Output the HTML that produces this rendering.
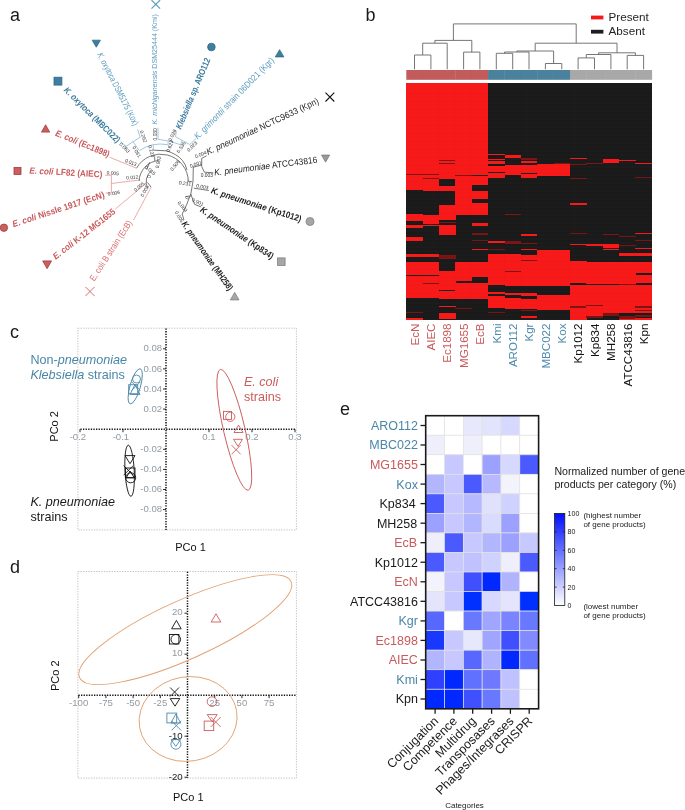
<!DOCTYPE html><html><head><meta charset="utf-8"><style>html,body{margin:0;padding:0;background:#fff;width:685px;height:810px;overflow:hidden}svg{display:block;will-change:transform}</style></head><body>
<svg width="685" height="810" viewBox="0 0 685 810" font-family='"Liberation Sans", sans-serif'>
<rect width="685" height="810" fill="#fff"/>
<text x="10" y="21" font-size="18" fill="#1a1a1a">a</text>
<text x="365.5" y="21" font-size="18" fill="#1a1a1a">b</text>
<text x="10" y="337.5" font-size="18" fill="#1a1a1a">c</text>
<text x="10" y="572.5" font-size="18" fill="#1a1a1a">d</text>
<text x="340" y="414.5" font-size="18" fill="#1a1a1a">e</text>
<text x="154.3" y="124.4" transform="rotate(-90.00 154.3 124.4)" font-size="7.4" fill="#5c9cbf" font-weight="normal" dominant-baseline="central" textLength="110.2" lengthAdjust="spacingAndGlyphs"><tspan font-style="italic">K. michiganensis</tspan><tspan> DSM25444 (Kmi)</tspan></text>
<text x="178.3" y="128.5" transform="rotate(-67.15 178.3 128.5)" font-size="9" fill="#3b7b9d" font-weight="bold" dominant-baseline="central" textLength="76.0" lengthAdjust="spacingAndGlyphs"><tspan font-style="italic">Klebsiella</tspan><tspan> sp. ARO112</tspan></text>
<text x="195.6" y="137.7" transform="rotate(-45.74 195.6 137.7)" font-size="9" fill="#5c9cbf" font-weight="normal" dominant-baseline="central" textLength="110.2" lengthAdjust="spacingAndGlyphs"><tspan font-style="italic">K. grimontii</tspan><tspan> strain 06D021 (Kgr)</tspan></text>
<text x="206.7" y="152.4" transform="rotate(-24.94 206.7 152.4)" font-size="9" fill="#1e1e1e" font-weight="normal" dominant-baseline="central" textLength="123.1" lengthAdjust="spacingAndGlyphs"><tspan font-style="italic">K. pneumoniae</tspan><tspan> NCTC9633 (Kpn)</tspan></text>
<text x="214.1" y="172.6" transform="rotate(-7.13 214.1 172.6)" font-size="9" fill="#1e1e1e" font-weight="normal" dominant-baseline="central" textLength="103.9" lengthAdjust="spacingAndGlyphs"><tspan font-style="italic">K. pneumoniae</tspan><tspan> ATCC43816</tspan></text>
<text x="211.3" y="190.2" transform="rotate(17.86 211.3 190.2)" font-size="9" fill="#1e1e1e" font-weight="bold" dominant-baseline="central" textLength="94.6" lengthAdjust="spacingAndGlyphs"><tspan font-style="italic">K. pneumoniae</tspan><tspan> (Kp1012)</tspan></text>
<text x="201.2" y="208.8" transform="rotate(33.89 201.2 208.8)" font-size="9" fill="#1e1e1e" font-weight="bold" dominant-baseline="central" textLength="86.3" lengthAdjust="spacingAndGlyphs"><tspan font-style="italic">K. pneumoniae</tspan><tspan> (Kp834)</tspan></text>
<text x="183.6" y="222.4" transform="rotate(54.75 183.6 222.4)" font-size="9" fill="#1e1e1e" font-weight="bold" dominant-baseline="central" textLength="82.3" lengthAdjust="spacingAndGlyphs"><tspan font-style="italic">K. pneumoniae</tspan><tspan> (MH258)</tspan></text>
<text x="91.7" y="280.2" transform="rotate(-57.05 91.7 280.2)" font-size="9" fill="#da6c6c" font-weight="normal" dominant-baseline="central" textLength="70.4" lengthAdjust="spacingAndGlyphs"><tspan>E. coli</tspan><tspan> B strain (EcB)</tspan></text>
<text x="54.0" y="257.5" transform="rotate(-38.04 54.0 257.5)" font-size="9" fill="#c9595b" font-weight="bold" dominant-baseline="central" textLength="76.4" lengthAdjust="spacingAndGlyphs"><tspan font-style="italic">E. coli</tspan><tspan> K-12 MG1655</tspan></text>
<text x="12.7" y="224.3" transform="rotate(-18.15 12.7 224.3)" font-size="9" fill="#c9595b" font-weight="bold" dominant-baseline="central" textLength="96.3" lengthAdjust="spacingAndGlyphs"><tspan font-style="italic">E. coli</tspan><tspan> Nissle 1917 (EcN)</tspan></text>
<text x="29.4" y="170.4" transform="rotate(3.14 29.4 170.4)" font-size="9" fill="#c9595b" font-weight="bold" dominant-baseline="central" textLength="73.1" lengthAdjust="spacingAndGlyphs"><tspan font-style="italic">E. coli</tspan><tspan> LF82 (AIEC)</tspan></text>
<text x="55.9" y="132.7" transform="rotate(22.26 55.9 132.7)" font-size="9" fill="#c9595b" font-weight="bold" dominant-baseline="central" textLength="57.8" lengthAdjust="spacingAndGlyphs"><tspan font-style="italic">E. coli</tspan><tspan> (Ec1898)</tspan></text>
<text x="65.4" y="88.7" transform="rotate(44.51 65.4 88.7)" font-size="9" fill="#3b7b9d" font-weight="bold" dominant-baseline="central" textLength="74.9" lengthAdjust="spacingAndGlyphs"><tspan font-style="italic">K. oxytoca</tspan><tspan> (MBC022)</tspan></text>
<text x="99.6" y="53.1" transform="rotate(62.89 99.6 53.1)" font-size="9" fill="#5c9cbf" font-weight="normal" dominant-baseline="central" textLength="80.5" lengthAdjust="spacingAndGlyphs"><tspan font-style="italic">K. oxytoca</tspan><tspan> DSM5175 (Kox)</tspan></text>
<path d="M151.5,0.1L160.1,8.7M160.1,0.1L151.5,8.7" stroke="#5c9cbf" stroke-width="1.2" fill="none"/>
<circle cx="211.4" cy="47" r="3.8" fill="#3f7ea0" stroke="#2f6a88" stroke-width="0.8"/>
<polygon points="279.6,49.7 283.9,56.9 275.3,56.9" fill="#3f7ea0" stroke="#2f6a88" stroke-width="0.8"/>
<path d="M325.5,92.7L334.3,101.5M334.3,92.7L325.5,101.5" stroke="#111" stroke-width="1.1" fill="none"/>
<polygon points="321.6,155.1 329.6,155.1 325.6,162.1" fill="#9a9a9a" stroke="#777" stroke-width="0.8"/>
<circle cx="310" cy="221.5" r="4.0" fill="#a6a6a6" stroke="#808080" stroke-width="0.8"/>
<rect x="277.6" y="257.9" width="7.5" height="7.5" fill="#a6a6a6" stroke="#808080" stroke-width="0.8"/>
<polygon points="234.7,292.4 239.0,299.9 230.4,299.9" fill="#a6a6a6" stroke="#808080" stroke-width="0.8"/>
<path d="M85.4,286.9L94.6,296.1M94.6,286.9L85.4,296.1" stroke="#da6c6c" stroke-width="1.0" fill="none"/>
<polygon points="42.7,260.9 51.5,260.9 47.1,268.7" fill="#cc5e5e" stroke="#9e3e3e" stroke-width="0.8"/>
<circle cx="3.9" cy="227.7" r="3.7" fill="#cc5e5e" stroke="#9e3e3e" stroke-width="0.8"/>
<rect x="14.0" y="167.5" width="7" height="7" fill="#cc5e5e" stroke="#9e3e3e" stroke-width="0.8"/>
<polygon points="45.6,124.8 49.7,132.1 41.5,132.1" fill="#cc5e5e" stroke="#9e3e3e" stroke-width="0.8"/>
<rect x="54.0" y="77.2" width="7.9" height="7.9" fill="#3f7ea0" stroke="#2f6a88" stroke-width="0.8"/>
<polygon points="92.2,40.2 100.4,40.2 96.3,47.2" fill="#3f7ea0" stroke="#2f6a88" stroke-width="0.8"/>
<path d="M109.5,157.2 L136.5,168.2" fill="none" stroke="#e58d8d" stroke-width="0.75"/>
<path d="M105,175.2 L111.4,175.2 L111.4,193 L105.5,193 M111.4,183.5 L140.1,179.9" fill="none" stroke="#e58d8d" stroke-width="0.75"/>
<path d="M115.3,209 L146.7,182.8" fill="none" stroke="#e58d8d" stroke-width="0.75"/>
<path d="M133.6,220 L151.1,187.2" fill="none" stroke="#e58d8d" stroke-width="0.75"/>
<path d="M136.5,168.2 A27.7,27.7 0 0 1 188.3,181.3" fill="none" stroke="#4a4a4a" stroke-width="0.75"/>
<path d="M139.1,181.1 A21.5,21.5 0 0 1 158.7,160.5" fill="none" stroke="#4a4a4a" stroke-width="0.75"/>
<path d="M147.7,188.5 A14.5,14.5 0 0 1 151.9,170.3" fill="none" stroke="#4a4a4a" stroke-width="0.75"/>
<path d="M151.1,187.2 L147.5,182.5" fill="none" stroke="#4a4a4a" stroke-width="0.75"/>
<path d="M149.6,162.3 L146.7,169.6" fill="none" stroke="#4a4a4a" stroke-width="0.75"/>
<path d="M187.2,181.1 L192.2,181.7" fill="none" stroke="#4a4a4a" stroke-width="0.75"/>
<path d="M193.3,166.7 Q194,182 190.8,194 L186.5,205 L182.2,214" fill="none" stroke="#4a4a4a" stroke-width="0.75"/>
<path d="M193.3,167.2 L201.7,165 M201.7,158.3 L201.7,166.5 L204.4,172.2 L213.3,172.8 M201.7,158.3 L206.7,155.8" fill="none" stroke="#4a4a4a" stroke-width="0.75"/>
<path d="M193.8,188.2 L208.9,190.5" fill="none" stroke="#4a4a4a" stroke-width="0.75"/>
<path d="M190.8,194 L194.5,204.3 L201.1,206.9" fill="none" stroke="#4a4a4a" stroke-width="0.75"/>
<path d="M182.2,214 L183.9,220" fill="none" stroke="#4a4a4a" stroke-width="0.75"/>
<path d="M185.5,196.5 L190.8,196" fill="none" stroke="#4a4a4a" stroke-width="0.75"/>
<path d="M137.6,129.5 L140.2,137.2 M120.5,141.5 L126,146.3 L140.2,137.2 M132.9,141.5 L139.1,150.3" fill="none" stroke="#84b4d0" stroke-width="0.75"/>
<path d="M139.4,150.6 A37.8,37.8 0 0 1 167.6,144.7" fill="none" stroke="#84b4d0" stroke-width="0.75"/>
<path d="M153.3,145.2 L153.3,150.2 M158,127.7 L158,139.3 Q170,140.2 180.7,144.8 M168.2,141.2 L167.9,145.2" fill="none" stroke="#84b4d0" stroke-width="0.75"/>
<path d="M176.3,131.7 L175.5,136.8 L189.8,144.5 L196,138.6 M182.1,140.4 L180.7,144.8" fill="none" stroke="#84b4d0" stroke-width="0.75"/>
<path d="M153.3,150.2 L166.5,150.8 Q177,154 182.5,160.5 Q186,165 187,170" fill="none" stroke="#4a4a4a" stroke-width="0.75"/>
<path d="M154.7,156.5 L154.7,160.9" fill="none" stroke="#4a4a4a" stroke-width="0.75"/>
<text x="143.3" y="136.5" font-size="4.9" fill="#333" text-anchor="middle" dominant-baseline="central" transform="rotate(70 143.3 136.5)">0.262</text>
<text x="124.5" y="147.8" font-size="4.9" fill="#333" text-anchor="middle" dominant-baseline="central" transform="rotate(45 124.5 147.8)">0.063</text>
<text x="136.5" y="151.8" font-size="4.9" fill="#333" text-anchor="middle" dominant-baseline="central" transform="rotate(60 136.5 151.8)">0.061</text>
<text x="130.7" y="162.7" font-size="4.9" fill="#333" text-anchor="middle" dominant-baseline="central" transform="rotate(22 130.7 162.7)">0.013</text>
<text x="151.3" y="151.2" font-size="4.9" fill="#333" text-anchor="middle" dominant-baseline="central" transform="rotate(75 151.3 151.2)">0.123</text>
<text x="155.2" y="134.3" font-size="4.9" fill="#333" text-anchor="middle" dominant-baseline="central" transform="rotate(-90 155.2 134.3)">0.030</text>
<text x="172.6" y="135.3" font-size="4.9" fill="#333" text-anchor="middle" dominant-baseline="central" transform="rotate(-65 172.6 135.3)">0.028</text>
<text x="170" y="146.3" font-size="4.9" fill="#333" text-anchor="middle" dominant-baseline="central" transform="rotate(-70 170 146.3)">0.623</text>
<text x="181.4" y="147.3" font-size="4.9" fill="#333" text-anchor="middle" dominant-baseline="central" transform="rotate(-55 181.4 147.3)">0.536</text>
<text x="192.3" y="146.6" font-size="4.9" fill="#333" text-anchor="middle" dominant-baseline="central" transform="rotate(-45 192.3 146.6)">0.023</text>
<text x="158.4" y="162.3" font-size="4.9" fill="#333" text-anchor="middle" dominant-baseline="central" transform="rotate(-80 158.4 162.3)">0.003</text>
<text x="175.2" y="165.5" font-size="4.9" fill="#333" text-anchor="middle" dominant-baseline="central" transform="rotate(-50 175.2 165.5)">0.506</text>
<text x="112.8" y="173.3" font-size="4.9" fill="#333" text-anchor="middle" dominant-baseline="central" transform="rotate(5 112.8 173.3)">0.005</text>
<text x="132.3" y="177.6" font-size="4.9" fill="#333" text-anchor="middle" dominant-baseline="central" transform="rotate(-5 132.3 177.6)">0.012</text>
<text x="113.9" y="193.3" font-size="4.9" fill="#333" text-anchor="middle" dominant-baseline="central" transform="rotate(-10 113.9 193.3)">0.006</text>
<text x="139.4" y="186.8" font-size="4.9" fill="#333" text-anchor="middle" dominant-baseline="central" transform="rotate(-40 139.4 186.8)">0.005</text>
<text x="144.9" y="191.1" font-size="4.9" fill="#333" text-anchor="middle" dominant-baseline="central" transform="rotate(-62 144.9 191.1)">0.005</text>
<text x="150.2" y="170.5" font-size="4.9" fill="#333" text-anchor="middle" dominant-baseline="central" transform="rotate(40 150.2 170.5)">0.015</text>
<text x="149.2" y="176.6" font-size="4.9" fill="#333" text-anchor="middle" dominant-baseline="central" transform="rotate(-90 149.2 176.6)">0</text>
<text x="200.8" y="154.7" font-size="4.9" fill="#333" text-anchor="middle" dominant-baseline="central" transform="rotate(-22 200.8 154.7)">0.004</text>
<text x="195.8" y="164.4" font-size="4.9" fill="#333" text-anchor="middle" dominant-baseline="central" transform="rotate(-18 195.8 164.4)">0.001</text>
<text x="206.9" y="175.3" font-size="4.9" fill="#333" text-anchor="middle" dominant-baseline="central" transform="rotate(0 206.9 175.3)">0.003</text>
<text x="185" y="183.6" font-size="4.9" fill="#333" text-anchor="middle" dominant-baseline="central" transform="rotate(8 185 183.6)">0.231</text>
<text x="202.4" y="186.9" font-size="4.9" fill="#333" text-anchor="middle" dominant-baseline="central" transform="rotate(10 202.4 186.9)">0.003</text>
<text x="187.2" y="197.8" font-size="4.9" fill="#333" text-anchor="middle" dominant-baseline="central" transform="rotate(-60 187.2 197.8)">0</text>
<text x="197.8" y="202.2" font-size="4.9" fill="#333" text-anchor="middle" dominant-baseline="central" transform="rotate(25 197.8 202.2)">0.001</text>
<text x="182.4" y="206.7" font-size="4.9" fill="#333" text-anchor="middle" dominant-baseline="central" transform="rotate(50 182.4 206.7)">0.003</text>
<text x="179.1" y="216.9" font-size="4.9" fill="#333" text-anchor="middle" dominant-baseline="central" transform="rotate(60 179.1 216.9)">0.005</text>
<path d="M414.5,69.3 V55 H430.9 V69.3" fill="none" stroke="#666" stroke-width="0.9"/>
<path d="M422.7,55 V43.2 H447.2 V69.3" fill="none" stroke="#666" stroke-width="0.9"/>
<path d="M463.6,69.3 V52.1 H479.9 V69.3" fill="none" stroke="#666" stroke-width="0.9"/>
<path d="M471.8,52.1 V40.4 H434.9 V43.2" fill="none" stroke="#666" stroke-width="0.9"/>
<path d="M453.4,40.4 V23.9 H576.2 V43.2" fill="none" stroke="#666" stroke-width="0.9"/>
<path d="M496.3,69.3 V53.3 H512.7 V69.3" fill="none" stroke="#666" stroke-width="0.9"/>
<path d="M504.5,53.3 V52 H529.0 V69.3" fill="none" stroke="#666" stroke-width="0.9"/>
<path d="M545.4,69.3 V63.5 H561.8 V69.3" fill="none" stroke="#666" stroke-width="0.9"/>
<path d="M516.8,52 V51 H553.6 V63.5" fill="none" stroke="#666" stroke-width="0.9"/>
<path d="M578.1,69.3 V57.9 H594.5 V69.3" fill="none" stroke="#666" stroke-width="0.9"/>
<path d="M586.3,57.9 V54.5 H610.9 V69.3" fill="none" stroke="#666" stroke-width="0.9"/>
<path d="M627.2,69.3 V55.4 H643.6 V69.3" fill="none" stroke="#666" stroke-width="0.9"/>
<path d="M598.6,54.5 V52.8 H635.4 V55.4" fill="none" stroke="#666" stroke-width="0.9"/>
<path d="M535.2,51 V43.2 H617.0 V52.8" fill="none" stroke="#666" stroke-width="0.9"/>
<rect x="406.30" y="70" width="16.67" height="9.8" fill="#c25b5c"/>
<rect x="422.67" y="70" width="16.67" height="9.8" fill="#c25b5c"/>
<rect x="439.03" y="70" width="16.67" height="9.8" fill="#c25b5c"/>
<rect x="455.40" y="70" width="16.67" height="9.8" fill="#c25b5c"/>
<rect x="471.77" y="70" width="16.67" height="9.8" fill="#c25b5c"/>
<rect x="488.13" y="70" width="16.67" height="9.8" fill="#4a819d"/>
<rect x="504.50" y="70" width="16.67" height="9.8" fill="#4a819d"/>
<rect x="520.87" y="70" width="16.67" height="9.8" fill="#4a819d"/>
<rect x="537.23" y="70" width="16.67" height="9.8" fill="#4a819d"/>
<rect x="553.60" y="70" width="16.67" height="9.8" fill="#4a819d"/>
<rect x="569.97" y="70" width="16.67" height="9.8" fill="#a8a8a8"/>
<rect x="586.33" y="70" width="16.67" height="9.8" fill="#a8a8a8"/>
<rect x="602.70" y="70" width="16.67" height="9.8" fill="#a8a8a8"/>
<rect x="619.07" y="70" width="16.67" height="9.8" fill="#a8a8a8"/>
<rect x="635.43" y="70" width="16.67" height="9.8" fill="#a8a8a8"/>
<line x1="422.67" y1="70" x2="422.67" y2="79.8" stroke="#000" stroke-opacity="0.03" stroke-width="0.6"/>
<line x1="439.03" y1="70" x2="439.03" y2="79.8" stroke="#000" stroke-opacity="0.03" stroke-width="0.6"/>
<line x1="455.40" y1="70" x2="455.40" y2="79.8" stroke="#000" stroke-opacity="0.03" stroke-width="0.6"/>
<line x1="471.77" y1="70" x2="471.77" y2="79.8" stroke="#000" stroke-opacity="0.03" stroke-width="0.6"/>
<line x1="488.13" y1="70" x2="488.13" y2="79.8" stroke="#000" stroke-opacity="0.03" stroke-width="0.6"/>
<line x1="504.50" y1="70" x2="504.50" y2="79.8" stroke="#000" stroke-opacity="0.03" stroke-width="0.6"/>
<line x1="520.87" y1="70" x2="520.87" y2="79.8" stroke="#000" stroke-opacity="0.03" stroke-width="0.6"/>
<line x1="537.23" y1="70" x2="537.23" y2="79.8" stroke="#000" stroke-opacity="0.03" stroke-width="0.6"/>
<line x1="553.60" y1="70" x2="553.60" y2="79.8" stroke="#000" stroke-opacity="0.03" stroke-width="0.6"/>
<line x1="569.97" y1="70" x2="569.97" y2="79.8" stroke="#000" stroke-opacity="0.03" stroke-width="0.6"/>
<line x1="586.33" y1="70" x2="586.33" y2="79.8" stroke="#000" stroke-opacity="0.03" stroke-width="0.6"/>
<line x1="602.70" y1="70" x2="602.70" y2="79.8" stroke="#000" stroke-opacity="0.03" stroke-width="0.6"/>
<line x1="619.07" y1="70" x2="619.07" y2="79.8" stroke="#000" stroke-opacity="0.03" stroke-width="0.6"/>
<line x1="635.43" y1="70" x2="635.43" y2="79.8" stroke="#000" stroke-opacity="0.03" stroke-width="0.6"/>
<rect x="406.3" y="83.0" width="245.50" height="237.0" fill="#1a1a1a" shape-rendering="crispEdges"/>
<rect x="406.30" y="83" width="16.57" height="107.3" fill="#f71818" shape-rendering="crispEdges"/>
<rect x="406.30" y="214" width="16.57" height="6.6" fill="#f71818" shape-rendering="crispEdges"/>
<rect x="406.30" y="225.4" width="16.57" height="2.2" fill="#f71818" shape-rendering="crispEdges"/>
<rect x="406.30" y="236.7" width="16.57" height="4.3" fill="#f71818" shape-rendering="crispEdges"/>
<rect x="406.30" y="253.8" width="16.57" height="2.7" fill="#f71818" shape-rendering="crispEdges"/>
<rect x="406.30" y="261.6" width="16.57" height="13.4" fill="#f71818" shape-rendering="crispEdges"/>
<rect x="406.30" y="276" width="16.57" height="21.7" fill="#f71818" shape-rendering="crispEdges"/>
<rect x="406.30" y="317.6" width="16.57" height="2.4" fill="#f71818" shape-rendering="crispEdges"/>
<rect x="406.30" y="174" width="16.57" height="1.0" fill="#7a1414" shape-rendering="crispEdges"/>
<rect x="406.30" y="312" width="16.57" height="1.0" fill="#7a1414" shape-rendering="crispEdges"/>
<rect x="422.67" y="83" width="16.57" height="108.0" fill="#f71818" shape-rendering="crispEdges"/>
<rect x="422.67" y="215" width="16.57" height="8.5" fill="#f71818" shape-rendering="crispEdges"/>
<rect x="422.67" y="224.8" width="16.57" height="0.8" fill="#f71818" shape-rendering="crispEdges"/>
<rect x="422.67" y="253.8" width="16.57" height="2.7" fill="#f71818" shape-rendering="crispEdges"/>
<rect x="422.67" y="261.6" width="16.57" height="13.4" fill="#f71818" shape-rendering="crispEdges"/>
<rect x="422.67" y="276" width="16.57" height="21.7" fill="#f71818" shape-rendering="crispEdges"/>
<rect x="422.67" y="174" width="16.57" height="1.0" fill="#7a1414" shape-rendering="crispEdges"/>
<rect x="422.67" y="178" width="16.57" height="1.0" fill="#7a1414" shape-rendering="crispEdges"/>
<rect x="422.67" y="283" width="16.57" height="1.0" fill="#7a1414" shape-rendering="crispEdges"/>
<rect x="439.03" y="83" width="16.57" height="96.0" fill="#f71818" shape-rendering="crispEdges"/>
<rect x="439.03" y="185.5" width="16.57" height="5.5" fill="#f71818" shape-rendering="crispEdges"/>
<rect x="439.03" y="204.5" width="16.57" height="15.2" fill="#f71818" shape-rendering="crispEdges"/>
<rect x="439.03" y="225.4" width="16.57" height="9.4" fill="#f71818" shape-rendering="crispEdges"/>
<rect x="439.03" y="271" width="16.57" height="19.0" fill="#f71818" shape-rendering="crispEdges"/>
<rect x="439.03" y="291" width="16.57" height="7.6" fill="#f71818" shape-rendering="crispEdges"/>
<rect x="439.03" y="305.5" width="16.57" height="1.0" fill="#f71818" shape-rendering="crispEdges"/>
<rect x="439.03" y="313" width="16.57" height="5.6" fill="#f71818" shape-rendering="crispEdges"/>
<rect x="439.03" y="160" width="16.57" height="1.0" fill="#7a1414" shape-rendering="crispEdges"/>
<rect x="439.03" y="163" width="16.57" height="1.0" fill="#7a1414" shape-rendering="crispEdges"/>
<rect x="439.03" y="222" width="16.57" height="1.0" fill="#7a1414" shape-rendering="crispEdges"/>
<rect x="439.03" y="255" width="16.57" height="4.0" fill="#7a1414" shape-rendering="crispEdges"/>
<rect x="455.40" y="83" width="16.57" height="91.7" fill="#f71818" shape-rendering="crispEdges"/>
<rect x="455.40" y="176" width="16.57" height="39.0" fill="#f71818" shape-rendering="crispEdges"/>
<rect x="455.40" y="222.6" width="16.57" height="0.8" fill="#f71818" shape-rendering="crispEdges"/>
<rect x="455.40" y="261.6" width="16.57" height="19.0" fill="#f71818" shape-rendering="crispEdges"/>
<rect x="455.40" y="283" width="16.57" height="15.6" fill="#f71818" shape-rendering="crispEdges"/>
<rect x="455.40" y="174.7" width="16.57" height="1.3" fill="#7a1414" shape-rendering="crispEdges"/>
<rect x="455.40" y="308" width="16.57" height="1.0" fill="#7a1414" shape-rendering="crispEdges"/>
<rect x="471.77" y="83" width="16.57" height="91.7" fill="#f71818" shape-rendering="crispEdges"/>
<rect x="471.77" y="176" width="16.57" height="9.0" fill="#f71818" shape-rendering="crispEdges"/>
<rect x="471.77" y="191" width="16.57" height="8.0" fill="#f71818" shape-rendering="crispEdges"/>
<rect x="471.77" y="203" width="16.57" height="12.0" fill="#f71818" shape-rendering="crispEdges"/>
<rect x="471.77" y="222.5" width="16.57" height="3.5" fill="#f71818" shape-rendering="crispEdges"/>
<rect x="471.77" y="248.6" width="16.57" height="1.0" fill="#f71818" shape-rendering="crispEdges"/>
<rect x="471.77" y="261.6" width="16.57" height="15.2" fill="#f71818" shape-rendering="crispEdges"/>
<rect x="471.77" y="283" width="16.57" height="15.6" fill="#f71818" shape-rendering="crispEdges"/>
<rect x="471.77" y="233" width="16.57" height="2.0" fill="#7a1414" shape-rendering="crispEdges"/>
<rect x="471.77" y="240" width="16.57" height="1.0" fill="#7a1414" shape-rendering="crispEdges"/>
<rect x="488.13" y="153.7" width="16.57" height="1.1" fill="#f71818" shape-rendering="crispEdges"/>
<rect x="488.13" y="158.5" width="16.57" height="1.0" fill="#f71818" shape-rendering="crispEdges"/>
<rect x="488.13" y="160.5" width="16.57" height="3.2" fill="#f71818" shape-rendering="crispEdges"/>
<rect x="488.13" y="165.6" width="16.57" height="6.4" fill="#f71818" shape-rendering="crispEdges"/>
<rect x="488.13" y="173" width="16.57" height="5.0" fill="#f71818" shape-rendering="crispEdges"/>
<rect x="488.13" y="240.5" width="16.57" height="2.9" fill="#f71818" shape-rendering="crispEdges"/>
<rect x="488.13" y="254" width="16.57" height="31.4" fill="#f71818" shape-rendering="crispEdges"/>
<rect x="488.13" y="292" width="16.57" height="2.0" fill="#f71818" shape-rendering="crispEdges"/>
<rect x="488.13" y="296" width="16.57" height="12.0" fill="#f71818" shape-rendering="crispEdges"/>
<rect x="488.13" y="249" width="16.57" height="1.0" fill="#7a1414" shape-rendering="crispEdges"/>
<rect x="488.13" y="312" width="16.57" height="1.0" fill="#7a1414" shape-rendering="crispEdges"/>
<rect x="504.50" y="154.8" width="16.57" height="3.2" fill="#f71818" shape-rendering="crispEdges"/>
<rect x="504.50" y="164.7" width="16.57" height="10.3" fill="#f71818" shape-rendering="crispEdges"/>
<rect x="504.50" y="254" width="16.57" height="32.0" fill="#f71818" shape-rendering="crispEdges"/>
<rect x="504.50" y="293" width="16.57" height="2.0" fill="#f71818" shape-rendering="crispEdges"/>
<rect x="504.50" y="297.7" width="16.57" height="11.3" fill="#f71818" shape-rendering="crispEdges"/>
<rect x="504.50" y="214" width="16.57" height="1.0" fill="#7a1414" shape-rendering="crispEdges"/>
<rect x="504.50" y="240.5" width="16.57" height="3.5" fill="#7a1414" shape-rendering="crispEdges"/>
<rect x="504.50" y="271" width="16.57" height="1.0" fill="#7a1414" shape-rendering="crispEdges"/>
<rect x="520.87" y="160.5" width="16.57" height="2.3" fill="#f71818" shape-rendering="crispEdges"/>
<rect x="520.87" y="164.7" width="16.57" height="8.5" fill="#f71818" shape-rendering="crispEdges"/>
<rect x="520.87" y="174" width="16.57" height="4.0" fill="#f71818" shape-rendering="crispEdges"/>
<rect x="520.87" y="234.3" width="16.57" height="1.5" fill="#f71818" shape-rendering="crispEdges"/>
<rect x="520.87" y="249" width="16.57" height="1.4" fill="#f71818" shape-rendering="crispEdges"/>
<rect x="520.87" y="255.3" width="16.57" height="31.0" fill="#f71818" shape-rendering="crispEdges"/>
<rect x="520.87" y="293" width="16.57" height="3.0" fill="#f71818" shape-rendering="crispEdges"/>
<rect x="520.87" y="298.6" width="16.57" height="10.4" fill="#f71818" shape-rendering="crispEdges"/>
<rect x="520.87" y="316" width="16.57" height="2.0" fill="#f71818" shape-rendering="crispEdges"/>
<rect x="520.87" y="158" width="16.57" height="2.0" fill="#7a1414" shape-rendering="crispEdges"/>
<rect x="520.87" y="243" width="16.57" height="1.0" fill="#7a1414" shape-rendering="crispEdges"/>
<rect x="520.87" y="260" width="16.57" height="1.0" fill="#7a1414" shape-rendering="crispEdges"/>
<rect x="520.87" y="310" width="16.57" height="1.0" fill="#7a1414" shape-rendering="crispEdges"/>
<rect x="537.23" y="163.7" width="16.57" height="12.3" fill="#f71818" shape-rendering="crispEdges"/>
<rect x="537.23" y="250" width="16.57" height="36.3" fill="#f71818" shape-rendering="crispEdges"/>
<rect x="537.23" y="294.8" width="16.57" height="15.2" fill="#f71818" shape-rendering="crispEdges"/>
<rect x="553.60" y="164.3" width="16.57" height="11.7" fill="#f71818" shape-rendering="crispEdges"/>
<rect x="553.60" y="250" width="16.57" height="36.3" fill="#f71818" shape-rendering="crispEdges"/>
<rect x="553.60" y="294.8" width="16.57" height="15.2" fill="#f71818" shape-rendering="crispEdges"/>
<rect x="553.60" y="163" width="16.57" height="1.3" fill="#7a1414" shape-rendering="crispEdges"/>
<rect x="569.97" y="157.5" width="16.57" height="1.0" fill="#f71818" shape-rendering="crispEdges"/>
<rect x="569.97" y="202.6" width="16.57" height="1.9" fill="#f71818" shape-rendering="crispEdges"/>
<rect x="569.97" y="244" width="16.57" height="1.3" fill="#f71818" shape-rendering="crispEdges"/>
<rect x="569.97" y="261" width="16.57" height="22.0" fill="#f71818" shape-rendering="crispEdges"/>
<rect x="569.97" y="285" width="16.57" height="21.0" fill="#f71818" shape-rendering="crispEdges"/>
<rect x="569.97" y="307.5" width="16.57" height="12.5" fill="#f71818" shape-rendering="crispEdges"/>
<rect x="569.97" y="164" width="16.57" height="1.0" fill="#7a1414" shape-rendering="crispEdges"/>
<rect x="569.97" y="178" width="16.57" height="1.0" fill="#7a1414" shape-rendering="crispEdges"/>
<rect x="569.97" y="233" width="16.57" height="1.0" fill="#7a1414" shape-rendering="crispEdges"/>
<rect x="569.97" y="306" width="16.57" height="1.5" fill="#7a1414" shape-rendering="crispEdges"/>
<rect x="586.33" y="244.3" width="16.57" height="1.6" fill="#f71818" shape-rendering="crispEdges"/>
<rect x="586.33" y="261.6" width="16.57" height="22.8" fill="#f71818" shape-rendering="crispEdges"/>
<rect x="586.33" y="285.4" width="16.57" height="19.9" fill="#f71818" shape-rendering="crispEdges"/>
<rect x="586.33" y="306" width="16.57" height="9.7" fill="#f71818" shape-rendering="crispEdges"/>
<rect x="586.33" y="163" width="16.57" height="1.0" fill="#7a1414" shape-rendering="crispEdges"/>
<rect x="586.33" y="305.3" width="16.57" height="0.7" fill="#7a1414" shape-rendering="crispEdges"/>
<rect x="586.33" y="315.7" width="16.57" height="1.9" fill="#7a1414" shape-rendering="crispEdges"/>
<rect x="602.70" y="159" width="16.57" height="3.8" fill="#f71818" shape-rendering="crispEdges"/>
<rect x="602.70" y="244" width="16.57" height="3.8" fill="#f71818" shape-rendering="crispEdges"/>
<rect x="602.70" y="249" width="16.57" height="1.4" fill="#f71818" shape-rendering="crispEdges"/>
<rect x="602.70" y="261.6" width="16.57" height="22.8" fill="#f71818" shape-rendering="crispEdges"/>
<rect x="602.70" y="285.4" width="16.57" height="27.5" fill="#f71818" shape-rendering="crispEdges"/>
<rect x="602.70" y="234" width="16.57" height="1.0" fill="#7a1414" shape-rendering="crispEdges"/>
<rect x="602.70" y="312.9" width="16.57" height="2.8" fill="#7a1414" shape-rendering="crispEdges"/>
<rect x="619.07" y="159.9" width="16.57" height="0.8" fill="#f71818" shape-rendering="crispEdges"/>
<rect x="619.07" y="253.4" width="16.57" height="2.3" fill="#f71818" shape-rendering="crispEdges"/>
<rect x="619.07" y="261.6" width="16.57" height="21.9" fill="#f71818" shape-rendering="crispEdges"/>
<rect x="619.07" y="285.4" width="16.57" height="27.6" fill="#f71818" shape-rendering="crispEdges"/>
<rect x="619.07" y="318.8" width="16.57" height="1.2" fill="#f71818" shape-rendering="crispEdges"/>
<rect x="619.07" y="236" width="16.57" height="1.0" fill="#7a1414" shape-rendering="crispEdges"/>
<rect x="619.07" y="245" width="16.57" height="1.0" fill="#7a1414" shape-rendering="crispEdges"/>
<rect x="619.07" y="284" width="16.57" height="1.0" fill="#7a1414" shape-rendering="crispEdges"/>
<rect x="619.07" y="315.8" width="16.57" height="3.0" fill="#7a1414" shape-rendering="crispEdges"/>
<rect x="635.43" y="163.2" width="16.57" height="1.0" fill="#f71818" shape-rendering="crispEdges"/>
<rect x="635.43" y="232.6" width="16.57" height="1.4" fill="#f71818" shape-rendering="crispEdges"/>
<rect x="635.43" y="247.8" width="16.57" height="1.2" fill="#f71818" shape-rendering="crispEdges"/>
<rect x="635.43" y="253.4" width="16.57" height="2.3" fill="#f71818" shape-rendering="crispEdges"/>
<rect x="635.43" y="261.6" width="16.57" height="10.9" fill="#f71818" shape-rendering="crispEdges"/>
<rect x="635.43" y="275" width="16.57" height="7.5" fill="#f71818" shape-rendering="crispEdges"/>
<rect x="635.43" y="285.4" width="16.57" height="20.5" fill="#f71818" shape-rendering="crispEdges"/>
<rect x="635.43" y="308" width="16.57" height="1.8" fill="#f71818" shape-rendering="crispEdges"/>
<rect x="635.43" y="311" width="16.57" height="2.0" fill="#f71818" shape-rendering="crispEdges"/>
<rect x="635.43" y="318.4" width="16.57" height="1.6" fill="#f71818" shape-rendering="crispEdges"/>
<rect x="635.43" y="177" width="16.57" height="1.0" fill="#7a1414" shape-rendering="crispEdges"/>
<rect x="635.43" y="240" width="16.57" height="1.0" fill="#7a1414" shape-rendering="crispEdges"/>
<rect x="635.43" y="305.9" width="16.57" height="2.1" fill="#7a1414" shape-rendering="crispEdges"/>
<rect x="635.43" y="309.8" width="16.57" height="1.2" fill="#7a1414" shape-rendering="crispEdges"/>
<rect x="635.43" y="315" width="16.57" height="2.0" fill="#7a1414" shape-rendering="crispEdges"/>
<line x1="406.3" y1="83.0" x2="651.8" y2="83.0" stroke="#fff" stroke-opacity="0.045" stroke-width="0.6"/>
<line x1="406.3" y1="87.0" x2="651.8" y2="87.0" stroke="#fff" stroke-opacity="0.045" stroke-width="0.6"/>
<line x1="406.3" y1="91.0" x2="651.8" y2="91.0" stroke="#fff" stroke-opacity="0.045" stroke-width="0.6"/>
<line x1="406.3" y1="95.0" x2="651.8" y2="95.0" stroke="#fff" stroke-opacity="0.045" stroke-width="0.6"/>
<line x1="406.3" y1="99.0" x2="651.8" y2="99.0" stroke="#fff" stroke-opacity="0.045" stroke-width="0.6"/>
<line x1="406.3" y1="103.0" x2="651.8" y2="103.0" stroke="#fff" stroke-opacity="0.045" stroke-width="0.6"/>
<line x1="406.3" y1="107.0" x2="651.8" y2="107.0" stroke="#fff" stroke-opacity="0.045" stroke-width="0.6"/>
<line x1="406.3" y1="111.0" x2="651.8" y2="111.0" stroke="#fff" stroke-opacity="0.045" stroke-width="0.6"/>
<line x1="406.3" y1="115.0" x2="651.8" y2="115.0" stroke="#fff" stroke-opacity="0.045" stroke-width="0.6"/>
<line x1="406.3" y1="119.0" x2="651.8" y2="119.0" stroke="#fff" stroke-opacity="0.045" stroke-width="0.6"/>
<line x1="406.3" y1="123.0" x2="651.8" y2="123.0" stroke="#fff" stroke-opacity="0.045" stroke-width="0.6"/>
<line x1="406.3" y1="127.0" x2="651.8" y2="127.0" stroke="#fff" stroke-opacity="0.045" stroke-width="0.6"/>
<line x1="406.3" y1="131.0" x2="651.8" y2="131.0" stroke="#fff" stroke-opacity="0.045" stroke-width="0.6"/>
<line x1="406.3" y1="135.0" x2="651.8" y2="135.0" stroke="#fff" stroke-opacity="0.045" stroke-width="0.6"/>
<line x1="406.3" y1="139.0" x2="651.8" y2="139.0" stroke="#fff" stroke-opacity="0.045" stroke-width="0.6"/>
<line x1="406.3" y1="143.0" x2="651.8" y2="143.0" stroke="#fff" stroke-opacity="0.045" stroke-width="0.6"/>
<line x1="406.3" y1="147.0" x2="651.8" y2="147.0" stroke="#fff" stroke-opacity="0.045" stroke-width="0.6"/>
<line x1="406.3" y1="151.0" x2="651.8" y2="151.0" stroke="#fff" stroke-opacity="0.045" stroke-width="0.6"/>
<line x1="406.3" y1="155.0" x2="651.8" y2="155.0" stroke="#fff" stroke-opacity="0.045" stroke-width="0.6"/>
<line x1="406.3" y1="159.0" x2="651.8" y2="159.0" stroke="#fff" stroke-opacity="0.045" stroke-width="0.6"/>
<line x1="406.3" y1="163.0" x2="651.8" y2="163.0" stroke="#fff" stroke-opacity="0.045" stroke-width="0.6"/>
<line x1="406.3" y1="167.0" x2="651.8" y2="167.0" stroke="#fff" stroke-opacity="0.045" stroke-width="0.6"/>
<line x1="406.3" y1="171.0" x2="651.8" y2="171.0" stroke="#fff" stroke-opacity="0.045" stroke-width="0.6"/>
<line x1="406.3" y1="175.0" x2="651.8" y2="175.0" stroke="#fff" stroke-opacity="0.045" stroke-width="0.6"/>
<line x1="406.3" y1="179.0" x2="651.8" y2="179.0" stroke="#fff" stroke-opacity="0.045" stroke-width="0.6"/>
<line x1="406.3" y1="183.0" x2="651.8" y2="183.0" stroke="#fff" stroke-opacity="0.045" stroke-width="0.6"/>
<line x1="406.3" y1="187.0" x2="651.8" y2="187.0" stroke="#fff" stroke-opacity="0.045" stroke-width="0.6"/>
<line x1="406.3" y1="191.0" x2="651.8" y2="191.0" stroke="#fff" stroke-opacity="0.045" stroke-width="0.6"/>
<line x1="406.3" y1="195.0" x2="651.8" y2="195.0" stroke="#fff" stroke-opacity="0.045" stroke-width="0.6"/>
<line x1="406.3" y1="199.0" x2="651.8" y2="199.0" stroke="#fff" stroke-opacity="0.045" stroke-width="0.6"/>
<line x1="406.3" y1="203.0" x2="651.8" y2="203.0" stroke="#fff" stroke-opacity="0.045" stroke-width="0.6"/>
<line x1="406.3" y1="207.0" x2="651.8" y2="207.0" stroke="#fff" stroke-opacity="0.045" stroke-width="0.6"/>
<line x1="406.3" y1="211.0" x2="651.8" y2="211.0" stroke="#fff" stroke-opacity="0.045" stroke-width="0.6"/>
<line x1="406.3" y1="215.0" x2="651.8" y2="215.0" stroke="#fff" stroke-opacity="0.045" stroke-width="0.6"/>
<line x1="406.3" y1="219.0" x2="651.8" y2="219.0" stroke="#fff" stroke-opacity="0.045" stroke-width="0.6"/>
<line x1="406.3" y1="223.0" x2="651.8" y2="223.0" stroke="#fff" stroke-opacity="0.045" stroke-width="0.6"/>
<line x1="406.3" y1="227.0" x2="651.8" y2="227.0" stroke="#fff" stroke-opacity="0.045" stroke-width="0.6"/>
<line x1="406.3" y1="231.0" x2="651.8" y2="231.0" stroke="#fff" stroke-opacity="0.045" stroke-width="0.6"/>
<line x1="406.3" y1="235.0" x2="651.8" y2="235.0" stroke="#fff" stroke-opacity="0.045" stroke-width="0.6"/>
<line x1="406.3" y1="239.0" x2="651.8" y2="239.0" stroke="#fff" stroke-opacity="0.045" stroke-width="0.6"/>
<line x1="406.3" y1="243.0" x2="651.8" y2="243.0" stroke="#fff" stroke-opacity="0.045" stroke-width="0.6"/>
<line x1="406.3" y1="247.0" x2="651.8" y2="247.0" stroke="#fff" stroke-opacity="0.045" stroke-width="0.6"/>
<line x1="406.3" y1="251.0" x2="651.8" y2="251.0" stroke="#fff" stroke-opacity="0.045" stroke-width="0.6"/>
<line x1="406.3" y1="255.0" x2="651.8" y2="255.0" stroke="#fff" stroke-opacity="0.045" stroke-width="0.6"/>
<line x1="406.3" y1="259.0" x2="651.8" y2="259.0" stroke="#fff" stroke-opacity="0.045" stroke-width="0.6"/>
<line x1="406.3" y1="263.0" x2="651.8" y2="263.0" stroke="#fff" stroke-opacity="0.045" stroke-width="0.6"/>
<line x1="406.3" y1="267.0" x2="651.8" y2="267.0" stroke="#fff" stroke-opacity="0.045" stroke-width="0.6"/>
<line x1="406.3" y1="271.0" x2="651.8" y2="271.0" stroke="#fff" stroke-opacity="0.045" stroke-width="0.6"/>
<line x1="406.3" y1="275.0" x2="651.8" y2="275.0" stroke="#fff" stroke-opacity="0.045" stroke-width="0.6"/>
<line x1="406.3" y1="279.0" x2="651.8" y2="279.0" stroke="#fff" stroke-opacity="0.045" stroke-width="0.6"/>
<line x1="406.3" y1="283.0" x2="651.8" y2="283.0" stroke="#fff" stroke-opacity="0.045" stroke-width="0.6"/>
<line x1="406.3" y1="287.0" x2="651.8" y2="287.0" stroke="#fff" stroke-opacity="0.045" stroke-width="0.6"/>
<line x1="406.3" y1="291.0" x2="651.8" y2="291.0" stroke="#fff" stroke-opacity="0.045" stroke-width="0.6"/>
<line x1="406.3" y1="295.0" x2="651.8" y2="295.0" stroke="#fff" stroke-opacity="0.045" stroke-width="0.6"/>
<line x1="406.3" y1="299.0" x2="651.8" y2="299.0" stroke="#fff" stroke-opacity="0.045" stroke-width="0.6"/>
<line x1="406.3" y1="303.0" x2="651.8" y2="303.0" stroke="#fff" stroke-opacity="0.045" stroke-width="0.6"/>
<line x1="406.3" y1="307.0" x2="651.8" y2="307.0" stroke="#fff" stroke-opacity="0.045" stroke-width="0.6"/>
<line x1="406.3" y1="311.0" x2="651.8" y2="311.0" stroke="#fff" stroke-opacity="0.045" stroke-width="0.6"/>
<line x1="406.3" y1="315.0" x2="651.8" y2="315.0" stroke="#fff" stroke-opacity="0.045" stroke-width="0.6"/>
<line x1="406.3" y1="319.0" x2="651.8" y2="319.0" stroke="#fff" stroke-opacity="0.045" stroke-width="0.6"/>
<line x1="422.67" y1="83.0" x2="422.67" y2="320" stroke="#000" stroke-opacity="0.025" stroke-width="0.6"/>
<line x1="439.03" y1="83.0" x2="439.03" y2="320" stroke="#000" stroke-opacity="0.025" stroke-width="0.6"/>
<line x1="455.40" y1="83.0" x2="455.40" y2="320" stroke="#000" stroke-opacity="0.025" stroke-width="0.6"/>
<line x1="471.77" y1="83.0" x2="471.77" y2="320" stroke="#000" stroke-opacity="0.025" stroke-width="0.6"/>
<line x1="488.13" y1="83.0" x2="488.13" y2="320" stroke="#000" stroke-opacity="0.025" stroke-width="0.6"/>
<line x1="504.50" y1="83.0" x2="504.50" y2="320" stroke="#000" stroke-opacity="0.025" stroke-width="0.6"/>
<line x1="520.87" y1="83.0" x2="520.87" y2="320" stroke="#000" stroke-opacity="0.025" stroke-width="0.6"/>
<line x1="537.23" y1="83.0" x2="537.23" y2="320" stroke="#000" stroke-opacity="0.025" stroke-width="0.6"/>
<line x1="553.60" y1="83.0" x2="553.60" y2="320" stroke="#000" stroke-opacity="0.025" stroke-width="0.6"/>
<line x1="569.97" y1="83.0" x2="569.97" y2="320" stroke="#000" stroke-opacity="0.025" stroke-width="0.6"/>
<line x1="586.33" y1="83.0" x2="586.33" y2="320" stroke="#000" stroke-opacity="0.025" stroke-width="0.6"/>
<line x1="602.70" y1="83.0" x2="602.70" y2="320" stroke="#000" stroke-opacity="0.025" stroke-width="0.6"/>
<line x1="619.07" y1="83.0" x2="619.07" y2="320" stroke="#000" stroke-opacity="0.025" stroke-width="0.6"/>
<line x1="635.43" y1="83.0" x2="635.43" y2="320" stroke="#000" stroke-opacity="0.025" stroke-width="0.6"/>
<text x="418.7" y="323.5" transform="rotate(-90 418.7 323.5)" text-anchor="end" font-size="11.6" fill="#c9595b">EcN</text>
<text x="435.1" y="323.5" transform="rotate(-90 435.1 323.5)" text-anchor="end" font-size="11.6" fill="#c9595b">AIEC</text>
<text x="451.4" y="323.5" transform="rotate(-90 451.4 323.5)" text-anchor="end" font-size="11.6" fill="#c9595b">Ec1898</text>
<text x="467.8" y="323.5" transform="rotate(-90 467.8 323.5)" text-anchor="end" font-size="11.6" fill="#c9595b">MG1655</text>
<text x="484.1" y="323.5" transform="rotate(-90 484.1 323.5)" text-anchor="end" font-size="11.6" fill="#c9595b">EcB</text>
<text x="500.5" y="323.5" transform="rotate(-90 500.5 323.5)" text-anchor="end" font-size="11.6" fill="#4f8cae">Kmi</text>
<text x="516.9" y="323.5" transform="rotate(-90 516.9 323.5)" text-anchor="end" font-size="11.6" fill="#4f8cae">ARO112</text>
<text x="533.2" y="323.5" transform="rotate(-90 533.2 323.5)" text-anchor="end" font-size="11.6" fill="#4f8cae">Kgr</text>
<text x="549.6" y="323.5" transform="rotate(-90 549.6 323.5)" text-anchor="end" font-size="11.6" fill="#4f8cae">MBC022</text>
<text x="566.0" y="323.5" transform="rotate(-90 566.0 323.5)" text-anchor="end" font-size="11.6" fill="#4f8cae">Kox</text>
<text x="582.4" y="323.5" transform="rotate(-90 582.4 323.5)" text-anchor="end" font-size="11.6" fill="#111">Kp1012</text>
<text x="598.7" y="323.5" transform="rotate(-90 598.7 323.5)" text-anchor="end" font-size="11.6" fill="#111">Kp834</text>
<text x="615.1" y="323.5" transform="rotate(-90 615.1 323.5)" text-anchor="end" font-size="11.6" fill="#111">MH258</text>
<text x="631.5" y="323.5" transform="rotate(-90 631.5 323.5)" text-anchor="end" font-size="11.6" fill="#111">ATCC43816</text>
<text x="647.8" y="323.5" transform="rotate(-90 647.8 323.5)" text-anchor="end" font-size="11.6" fill="#111">Kpn</text>
<rect x="591" y="15.6" width="12.4" height="3.8" fill="#f51a1a"/>
<rect x="591" y="29.8" width="12.4" height="3.8" fill="#1e1e1e"/>
<text x="608.5" y="21.2" font-size="11.7" fill="#1e1e1e">Present</text>
<text x="608.5" y="35.3" font-size="11.7" fill="#1e1e1e">Absent</text>
<rect x="77.9" y="328.2" width="218.49999999999997" height="201.7" fill="none" stroke="#c2c2c2" stroke-width="1.0" stroke-dasharray="1.3,1.3"/>
<line x1="80.4" y1="429.2" x2="296" y2="429.2" stroke="#111" stroke-width="1.5" stroke-dasharray="1.3,1.3"/>
<line x1="166.0" y1="328.5" x2="166.0" y2="530" stroke="#111" stroke-width="1.5" stroke-dasharray="1.3,1.3"/>
<line x1="80.0" y1="429.2" x2="80.0" y2="432.2" stroke="#111" stroke-width="0.9"/>
<text x="77.9" y="440.4" font-size="9.6" fill="#909aa4" text-anchor="middle" >-0.2</text>
<line x1="123.0" y1="429.2" x2="123.0" y2="432.2" stroke="#111" stroke-width="0.9"/>
<text x="120.9" y="440.4" font-size="9.6" fill="#909aa4" text-anchor="middle" >-0.1</text>
<line x1="209.0" y1="429.2" x2="209.0" y2="432.2" stroke="#111" stroke-width="0.9"/>
<text x="209.0" y="440.4" font-size="9.6" fill="#909aa4" text-anchor="middle" >0.1</text>
<line x1="252.0" y1="429.2" x2="252.0" y2="432.2" stroke="#111" stroke-width="0.9"/>
<text x="252.0" y="440.4" font-size="9.6" fill="#909aa4" text-anchor="middle" >0.2</text>
<line x1="295.0" y1="429.2" x2="295.0" y2="432.2" stroke="#111" stroke-width="0.9"/>
<text x="295.0" y="440.4" font-size="9.6" fill="#909aa4" text-anchor="middle" >0.3</text>
<line x1="163.0" y1="348.8" x2="166.0" y2="348.8" stroke="#111" stroke-width="0.9"/>
<text x="162.2" y="351.4" font-size="9.6" fill="#909aa4" text-anchor="end" >0.08</text>
<line x1="163.0" y1="368.9" x2="166.0" y2="368.9" stroke="#111" stroke-width="0.9"/>
<text x="162.2" y="371.5" font-size="9.6" fill="#909aa4" text-anchor="end" >0.06</text>
<line x1="163.0" y1="389.0" x2="166.0" y2="389.0" stroke="#111" stroke-width="0.9"/>
<text x="162.2" y="391.6" font-size="9.6" fill="#909aa4" text-anchor="end" >0.04</text>
<line x1="163.0" y1="409.1" x2="166.0" y2="409.1" stroke="#111" stroke-width="0.9"/>
<text x="162.2" y="411.7" font-size="9.6" fill="#909aa4" text-anchor="end" >0.02</text>
<line x1="163.0" y1="449.3" x2="166.0" y2="449.3" stroke="#111" stroke-width="0.9"/>
<text x="162.2" y="451.9" font-size="9.6" fill="#909aa4" text-anchor="end" >-0.02</text>
<line x1="163.0" y1="469.4" x2="166.0" y2="469.4" stroke="#111" stroke-width="0.9"/>
<text x="162.2" y="472.0" font-size="9.6" fill="#909aa4" text-anchor="end" >-0.04</text>
<line x1="163.0" y1="489.5" x2="166.0" y2="489.5" stroke="#111" stroke-width="0.9"/>
<text x="162.2" y="492.1" font-size="9.6" fill="#909aa4" text-anchor="end" >-0.06</text>
<line x1="163.0" y1="509.6" x2="166.0" y2="509.6" stroke="#111" stroke-width="0.9"/>
<text x="162.2" y="512.2" font-size="9.6" fill="#909aa4" text-anchor="end" >-0.08</text>
<text x="190.5" y="551.0" font-size="11" fill="#111" text-anchor="middle" >PCo 1</text>
<text x="58.2" y="426.4" font-size="11" fill="#111" text-anchor="middle" transform="rotate(-90 58.2 426.4)">PCo 2</text>
<text x="30.4" y="363.6" font-size="12.6" fill="#4a86a8">Non-<tspan font-style="italic">pneumoniae</tspan></text>
<text x="30.4" y="378.8" font-size="12.6" fill="#4a86a8"><tspan font-style="italic">Klebsiella</tspan> strains</text>
<text x="243.9" y="386.2" font-size="12.6" fill="#cc5b5b" font-style="italic">E. coli</text>
<text x="243.9" y="401.4" font-size="12.6" fill="#cc5b5b">strains</text>
<text x="30.4" y="506.0" font-size="12.6" fill="#1a1a1a" font-style="italic">K. pneumoniae</text>
<text x="30.4" y="521.2" font-size="12.6" fill="#1a1a1a">strains</text>
<ellipse cx="234.3" cy="429.8" rx="62" ry="10.7" transform="rotate(77 234.3 429.8)" fill="none" stroke="#cc5b5b" stroke-width="0.9"/>
<rect x="223.5" y="411.4" width="8" height="8" fill="none" stroke="#cc5b5b" stroke-width="0.9"/>
<circle cx="230.3" cy="416.8" r="4.6" fill="none" stroke="#cc5b5b" stroke-width="0.9"/>
<polygon points="238.5,425.1 243.0,432.5 234.0,432.5" fill="none" stroke="#cc5b5b" stroke-width="0.9"/>
<polygon points="233.5,439.3 242.5,439.3 238.0,446.4" fill="none" stroke="#cc5b5b" stroke-width="0.9"/>
<path d="M231.5,445.1L240.7,454.3M240.7,445.1L231.5,454.3" stroke="#cc5b5b" stroke-width="0.9" fill="none"/>
<ellipse cx="135.2" cy="386.3" rx="18.2" ry="5.2" transform="rotate(-74 135.2 386.3)" fill="none" stroke="#4d89aa" stroke-width="0.9"/>
<rect x="128.7" y="384.7" width="9" height="9" fill="none" stroke="#4d89aa" stroke-width="0.9"/>
<circle cx="136.5" cy="379" r="4.0" fill="none" stroke="#4d89aa" stroke-width="0.9"/>
<polygon points="135.0,384.5 140.0,394.5 130.0,394.5" fill="none" stroke="#4d89aa" stroke-width="0.9"/>
<path d="M131.7,381.9L140.3,390.5M140.3,381.9L131.7,390.5" stroke="#4d89aa" stroke-width="0.9" fill="none"/>
<ellipse cx="129.6" cy="470.75" rx="25.6" ry="4.6" transform="rotate(87 129.6 470.75)" fill="none" stroke="#111" stroke-width="0.9"/>
<polygon points="125.0,455.6 135.0,455.6 130.0,463.7" fill="none" stroke="#111" stroke-width="0.9"/>
<rect x="125.4" y="468.0" width="9.6" height="9.6" fill="none" stroke="#111" stroke-width="0.9"/>
<path d="M123.6,465.6L133.2,475.2M133.2,465.6L123.6,475.2" stroke="#111" stroke-width="0.9" fill="none"/>
<polygon points="130.2,471.1 134.3,477.9 126.1,477.9" fill="none" stroke="#111" stroke-width="0.9"/>
<circle cx="130.7" cy="477.8" r="5" fill="none" stroke="#111" stroke-width="0.9"/>
<rect x="77.9" y="571.5" width="218.49999999999997" height="206.60000000000002" fill="none" stroke="#c2c2c2" stroke-width="1.0" stroke-dasharray="1.3,1.3"/>
<line x1="78.4" y1="695.2" x2="296" y2="695.2" stroke="#111" stroke-width="1.5" stroke-dasharray="1.3,1.3"/>
<line x1="187.5" y1="571.8" x2="187.5" y2="778" stroke="#111" stroke-width="1.5" stroke-dasharray="1.3,1.3"/>
<line x1="78.7" y1="695.2" x2="78.7" y2="698.2" stroke="#111" stroke-width="0.9"/>
<text x="78.7" y="706.4000000000001" font-size="9.6" fill="#909aa4" text-anchor="middle" >-100</text>
<line x1="105.9" y1="695.2" x2="105.9" y2="698.2" stroke="#111" stroke-width="0.9"/>
<text x="105.9" y="706.4000000000001" font-size="9.6" fill="#909aa4" text-anchor="middle" >-75</text>
<line x1="133.1" y1="695.2" x2="133.1" y2="698.2" stroke="#111" stroke-width="0.9"/>
<text x="133.1" y="706.4000000000001" font-size="9.6" fill="#909aa4" text-anchor="middle" >-50</text>
<line x1="160.3" y1="695.2" x2="160.3" y2="698.2" stroke="#111" stroke-width="0.9"/>
<text x="160.3" y="706.4000000000001" font-size="9.6" fill="#909aa4" text-anchor="middle" >-25</text>
<line x1="214.7" y1="695.2" x2="214.7" y2="698.2" stroke="#111" stroke-width="0.9"/>
<text x="214.7" y="706.4000000000001" font-size="9.6" fill="#909aa4" text-anchor="middle" >25</text>
<line x1="241.9" y1="695.2" x2="241.9" y2="698.2" stroke="#111" stroke-width="0.9"/>
<text x="241.9" y="706.4000000000001" font-size="9.6" fill="#909aa4" text-anchor="middle" >50</text>
<line x1="269.1" y1="695.2" x2="269.1" y2="698.2" stroke="#111" stroke-width="0.9"/>
<text x="269.1" y="706.4000000000001" font-size="9.6" fill="#909aa4" text-anchor="middle" >75</text>
<line x1="184.5" y1="613.2" x2="187.5" y2="613.2" stroke="#111" stroke-width="0.9"/>
<text x="182.7" y="615.4" font-size="9.6" fill="#909aa4" text-anchor="end" >20</text>
<line x1="184.5" y1="654.2" x2="187.5" y2="654.2" stroke="#111" stroke-width="0.9"/>
<text x="182.7" y="656.4" font-size="9.6" fill="#909aa4" text-anchor="end" >10</text>
<line x1="184.5" y1="736.2" x2="187.5" y2="736.2" stroke="#111" stroke-width="0.9"/>
<text x="182.7" y="739.4" font-size="9.6" fill="#1a1a1a" text-anchor="end" >-10</text>
<line x1="184.5" y1="777.2" x2="187.5" y2="777.2" stroke="#111" stroke-width="0.9"/>
<text x="182.7" y="780.4" font-size="9.6" fill="#1a1a1a" text-anchor="end" >-20</text>
<text x="188.3" y="800.6" font-size="11" fill="#111" text-anchor="middle" >PCo 1</text>
<text x="58.6" y="675.7" font-size="11" fill="#111" text-anchor="middle" transform="rotate(-90 58.6 675.7)">PCo 2</text>
<ellipse cx="185.3" cy="629.6" rx="116.1" ry="29.3" transform="rotate(-24.4 185.3 629.6)" fill="none" stroke="#e0a070" stroke-width="0.9"/>
<ellipse cx="188.1" cy="719" rx="49.2" ry="42.2" transform="rotate(-10 188.1 719)" fill="none" stroke="#e0a070" stroke-width="0.9"/>
<polygon points="216.0,613.8 220.8,622.0 211.2,622.0" fill="none" stroke="#cc5b5b" stroke-width="0.9"/>
<polygon points="176.4,620.4 181.2,628.8 171.6,628.8" fill="none" stroke="#111" stroke-width="0.9"/>
<rect x="169.4" y="634.5" width="9.5" height="9.5" fill="none" stroke="#111" stroke-width="0.9"/>
<circle cx="175.8" cy="639.3" r="4.8" fill="none" stroke="#111" stroke-width="0.9"/>
<path d="M170.1,687.5L179.1,696.5M179.1,687.5L170.1,696.5" stroke="#111" stroke-width="0.9" fill="none"/>
<polygon points="170.2,698.6 179.8,698.6 175.0,706.2" fill="none" stroke="#111" stroke-width="0.9"/>
<circle cx="212" cy="701.6" r="4.8" fill="none" stroke="#cc5b5b" stroke-width="0.9"/>
<rect x="166.9" y="713.1" width="9.8" height="9.8" fill="none" stroke="#4d89aa" stroke-width="0.9"/>
<polygon points="175.8,714.0 180.7,723.0 170.9,723.0" fill="none" stroke="#4d89aa" stroke-width="0.9"/>
<path d="M171.5,720.8L181.1,730.4M181.1,720.8L171.5,730.4" stroke="#4d89aa" stroke-width="0.9" fill="none"/>
<polygon points="171.0,739.6 180.6,739.6 175.8,746.4" fill="none" stroke="#4d89aa" stroke-width="0.9"/>
<circle cx="175.9" cy="744.2" r="5.0" fill="none" stroke="#4d89aa" stroke-width="0.9"/>
<polygon points="207.2,714.6 217.2,714.6 212.2,721.8" fill="none" stroke="#cc5b5b" stroke-width="0.9"/>
<path d="M210.8,717.1L220.6,726.9M220.6,717.1L210.8,726.9" stroke="#cc5b5b" stroke-width="0.9" fill="none"/>
<rect x="204.2" y="721.1" width="9.5" height="9.5" fill="none" stroke="#cc5b5b" stroke-width="0.9"/>
<rect x="425.70" y="415.70" width="18.82" height="19.54" fill="#ffffff" stroke="#e2e2e2" stroke-width="0.7"/>
<rect x="444.52" y="415.70" width="18.82" height="19.54" fill="#ffffff" stroke="#e2e2e2" stroke-width="0.7"/>
<rect x="463.33" y="415.70" width="18.82" height="19.54" fill="#e8e8fc" stroke="#e2e2e2" stroke-width="0.7"/>
<rect x="482.15" y="415.70" width="18.82" height="19.54" fill="#e2e3fd" stroke="#e2e2e2" stroke-width="0.7"/>
<rect x="500.97" y="415.70" width="18.82" height="19.54" fill="#d6d8ff" stroke="#e2e2e2" stroke-width="0.7"/>
<rect x="519.78" y="415.70" width="18.82" height="19.54" fill="#ffffff" stroke="#e2e2e2" stroke-width="0.7"/>
<rect x="425.70" y="435.24" width="18.82" height="19.54" fill="#efeffc" stroke="#e2e2e2" stroke-width="0.7"/>
<rect x="444.52" y="435.24" width="18.82" height="19.54" fill="#ffffff" stroke="#e2e2e2" stroke-width="0.7"/>
<rect x="463.33" y="435.24" width="18.82" height="19.54" fill="#efeffc" stroke="#e2e2e2" stroke-width="0.7"/>
<rect x="482.15" y="435.24" width="18.82" height="19.54" fill="#ffffff" stroke="#e2e2e2" stroke-width="0.7"/>
<rect x="500.97" y="435.24" width="18.82" height="19.54" fill="#ffffff" stroke="#e2e2e2" stroke-width="0.7"/>
<rect x="519.78" y="435.24" width="18.82" height="19.54" fill="#ffffff" stroke="#e2e2e2" stroke-width="0.7"/>
<rect x="425.70" y="454.78" width="18.82" height="19.54" fill="#ffffff" stroke="#e2e2e2" stroke-width="0.7"/>
<rect x="444.52" y="454.78" width="18.82" height="19.54" fill="#c6c8ff" stroke="#e2e2e2" stroke-width="0.7"/>
<rect x="463.33" y="454.78" width="18.82" height="19.54" fill="#ffffff" stroke="#e2e2e2" stroke-width="0.7"/>
<rect x="482.15" y="454.78" width="18.82" height="19.54" fill="#9ca1ff" stroke="#e2e2e2" stroke-width="0.7"/>
<rect x="500.97" y="454.78" width="18.82" height="19.54" fill="#d6d8ff" stroke="#e2e2e2" stroke-width="0.7"/>
<rect x="519.78" y="454.78" width="18.82" height="19.54" fill="#4b5aff" stroke="#e2e2e2" stroke-width="0.7"/>
<rect x="425.70" y="474.32" width="18.82" height="19.54" fill="#b2b6ff" stroke="#e2e2e2" stroke-width="0.7"/>
<rect x="444.52" y="474.32" width="18.82" height="19.54" fill="#c6c8ff" stroke="#e2e2e2" stroke-width="0.7"/>
<rect x="463.33" y="474.32" width="18.82" height="19.54" fill="#4b5aff" stroke="#e2e2e2" stroke-width="0.7"/>
<rect x="482.15" y="474.32" width="18.82" height="19.54" fill="#b6b9ff" stroke="#e2e2e2" stroke-width="0.7"/>
<rect x="500.97" y="474.32" width="18.82" height="19.54" fill="#f3f3fc" stroke="#e2e2e2" stroke-width="0.7"/>
<rect x="519.78" y="474.32" width="18.82" height="19.54" fill="#ffffff" stroke="#e2e2e2" stroke-width="0.7"/>
<rect x="425.70" y="493.86" width="18.82" height="19.54" fill="#4b5aff" stroke="#e2e2e2" stroke-width="0.7"/>
<rect x="444.52" y="493.86" width="18.82" height="19.54" fill="#c6c8ff" stroke="#e2e2e2" stroke-width="0.7"/>
<rect x="463.33" y="493.86" width="18.82" height="19.54" fill="#b6b9ff" stroke="#e2e2e2" stroke-width="0.7"/>
<rect x="482.15" y="493.86" width="18.82" height="19.54" fill="#e0e1fd" stroke="#e2e2e2" stroke-width="0.7"/>
<rect x="500.97" y="493.86" width="18.82" height="19.54" fill="#cfd1ff" stroke="#e2e2e2" stroke-width="0.7"/>
<rect x="519.78" y="493.86" width="18.82" height="19.54" fill="#ffffff" stroke="#e2e2e2" stroke-width="0.7"/>
<rect x="425.70" y="513.40" width="18.82" height="19.54" fill="#9ca1ff" stroke="#e2e2e2" stroke-width="0.7"/>
<rect x="444.52" y="513.40" width="18.82" height="19.54" fill="#c6c8ff" stroke="#e2e2e2" stroke-width="0.7"/>
<rect x="463.33" y="513.40" width="18.82" height="19.54" fill="#b2b6ff" stroke="#e2e2e2" stroke-width="0.7"/>
<rect x="482.15" y="513.40" width="18.82" height="19.54" fill="#dadcff" stroke="#e2e2e2" stroke-width="0.7"/>
<rect x="500.97" y="513.40" width="18.82" height="19.54" fill="#9ca1ff" stroke="#e2e2e2" stroke-width="0.7"/>
<rect x="519.78" y="513.40" width="18.82" height="19.54" fill="#ffffff" stroke="#e2e2e2" stroke-width="0.7"/>
<rect x="425.70" y="532.94" width="18.82" height="19.54" fill="#efeffc" stroke="#e2e2e2" stroke-width="0.7"/>
<rect x="444.52" y="532.94" width="18.82" height="19.54" fill="#4b5aff" stroke="#e2e2e2" stroke-width="0.7"/>
<rect x="463.33" y="532.94" width="18.82" height="19.54" fill="#c6c8ff" stroke="#e2e2e2" stroke-width="0.7"/>
<rect x="482.15" y="532.94" width="18.82" height="19.54" fill="#b2b6ff" stroke="#e2e2e2" stroke-width="0.7"/>
<rect x="500.97" y="532.94" width="18.82" height="19.54" fill="#9ca1ff" stroke="#e2e2e2" stroke-width="0.7"/>
<rect x="519.78" y="532.94" width="18.82" height="19.54" fill="#c6c8ff" stroke="#e2e2e2" stroke-width="0.7"/>
<rect x="425.70" y="552.48" width="18.82" height="19.54" fill="#4b5aff" stroke="#e2e2e2" stroke-width="0.7"/>
<rect x="444.52" y="552.48" width="18.82" height="19.54" fill="#c6c8ff" stroke="#e2e2e2" stroke-width="0.7"/>
<rect x="463.33" y="552.48" width="18.82" height="19.54" fill="#bfc2ff" stroke="#e2e2e2" stroke-width="0.7"/>
<rect x="482.15" y="552.48" width="18.82" height="19.54" fill="#cfd1ff" stroke="#e2e2e2" stroke-width="0.7"/>
<rect x="500.97" y="552.48" width="18.82" height="19.54" fill="#efeffc" stroke="#e2e2e2" stroke-width="0.7"/>
<rect x="519.78" y="552.48" width="18.82" height="19.54" fill="#4b5aff" stroke="#e2e2e2" stroke-width="0.7"/>
<rect x="425.70" y="572.02" width="18.82" height="19.54" fill="#f3f3fc" stroke="#e2e2e2" stroke-width="0.7"/>
<rect x="444.52" y="572.02" width="18.82" height="19.54" fill="#c6c8ff" stroke="#e2e2e2" stroke-width="0.7"/>
<rect x="463.33" y="572.02" width="18.82" height="19.54" fill="#4050ff" stroke="#e2e2e2" stroke-width="0.7"/>
<rect x="482.15" y="572.02" width="18.82" height="19.54" fill="#0028ff" stroke="#e2e2e2" stroke-width="0.7"/>
<rect x="500.97" y="572.02" width="18.82" height="19.54" fill="#b0b4ff" stroke="#e2e2e2" stroke-width="0.7"/>
<rect x="519.78" y="572.02" width="18.82" height="19.54" fill="#ffffff" stroke="#e2e2e2" stroke-width="0.7"/>
<rect x="425.70" y="591.56" width="18.82" height="19.54" fill="#e4e5fd" stroke="#e2e2e2" stroke-width="0.7"/>
<rect x="444.52" y="591.56" width="18.82" height="19.54" fill="#c6c8ff" stroke="#e2e2e2" stroke-width="0.7"/>
<rect x="463.33" y="591.56" width="18.82" height="19.54" fill="#0030ff" stroke="#e2e2e2" stroke-width="0.7"/>
<rect x="482.15" y="591.56" width="18.82" height="19.54" fill="#d6d8ff" stroke="#e2e2e2" stroke-width="0.7"/>
<rect x="500.97" y="591.56" width="18.82" height="19.54" fill="#e4e5fd" stroke="#e2e2e2" stroke-width="0.7"/>
<rect x="519.78" y="591.56" width="18.82" height="19.54" fill="#0030ff" stroke="#e2e2e2" stroke-width="0.7"/>
<rect x="425.70" y="611.10" width="18.82" height="19.54" fill="#5868ff" stroke="#e2e2e2" stroke-width="0.7"/>
<rect x="444.52" y="611.10" width="18.82" height="19.54" fill="#ffffff" stroke="#e2e2e2" stroke-width="0.7"/>
<rect x="463.33" y="611.10" width="18.82" height="19.54" fill="#6878ff" stroke="#e2e2e2" stroke-width="0.7"/>
<rect x="482.15" y="611.10" width="18.82" height="19.54" fill="#a0a6ff" stroke="#e2e2e2" stroke-width="0.7"/>
<rect x="500.97" y="611.10" width="18.82" height="19.54" fill="#7a84ff" stroke="#e2e2e2" stroke-width="0.7"/>
<rect x="519.78" y="611.10" width="18.82" height="19.54" fill="#6878ff" stroke="#e2e2e2" stroke-width="0.7"/>
<rect x="425.70" y="630.64" width="18.82" height="19.54" fill="#1838ff" stroke="#e2e2e2" stroke-width="0.7"/>
<rect x="444.52" y="630.64" width="18.82" height="19.54" fill="#c6c8ff" stroke="#e2e2e2" stroke-width="0.7"/>
<rect x="463.33" y="630.64" width="18.82" height="19.54" fill="#e8e8fc" stroke="#e2e2e2" stroke-width="0.7"/>
<rect x="482.15" y="630.64" width="18.82" height="19.54" fill="#a0a6ff" stroke="#e2e2e2" stroke-width="0.7"/>
<rect x="500.97" y="630.64" width="18.82" height="19.54" fill="#4050ff" stroke="#e2e2e2" stroke-width="0.7"/>
<rect x="519.78" y="630.64" width="18.82" height="19.54" fill="#828aff" stroke="#e2e2e2" stroke-width="0.7"/>
<rect x="425.70" y="650.18" width="18.82" height="19.54" fill="#b2b6ff" stroke="#e2e2e2" stroke-width="0.7"/>
<rect x="444.52" y="650.18" width="18.82" height="19.54" fill="#c6c8ff" stroke="#e2e2e2" stroke-width="0.7"/>
<rect x="463.33" y="650.18" width="18.82" height="19.54" fill="#5868ff" stroke="#e2e2e2" stroke-width="0.7"/>
<rect x="482.15" y="650.18" width="18.82" height="19.54" fill="#b0b4ff" stroke="#e2e2e2" stroke-width="0.7"/>
<rect x="500.97" y="650.18" width="18.82" height="19.54" fill="#0028ff" stroke="#e2e2e2" stroke-width="0.7"/>
<rect x="519.78" y="650.18" width="18.82" height="19.54" fill="#6070ff" stroke="#e2e2e2" stroke-width="0.7"/>
<rect x="425.70" y="669.72" width="18.82" height="19.54" fill="#3040ff" stroke="#e2e2e2" stroke-width="0.7"/>
<rect x="444.52" y="669.72" width="18.82" height="19.54" fill="#0028ff" stroke="#e2e2e2" stroke-width="0.7"/>
<rect x="463.33" y="669.72" width="18.82" height="19.54" fill="#6070ff" stroke="#e2e2e2" stroke-width="0.7"/>
<rect x="482.15" y="669.72" width="18.82" height="19.54" fill="#7078ff" stroke="#e2e2e2" stroke-width="0.7"/>
<rect x="500.97" y="669.72" width="18.82" height="19.54" fill="#bfc2ff" stroke="#e2e2e2" stroke-width="0.7"/>
<rect x="519.78" y="669.72" width="18.82" height="19.54" fill="#ffffff" stroke="#e2e2e2" stroke-width="0.7"/>
<rect x="425.70" y="689.26" width="18.82" height="19.54" fill="#0028ff" stroke="#e2e2e2" stroke-width="0.7"/>
<rect x="444.52" y="689.26" width="18.82" height="19.54" fill="#0028ff" stroke="#e2e2e2" stroke-width="0.7"/>
<rect x="463.33" y="689.26" width="18.82" height="19.54" fill="#4050ff" stroke="#e2e2e2" stroke-width="0.7"/>
<rect x="482.15" y="689.26" width="18.82" height="19.54" fill="#6878ff" stroke="#e2e2e2" stroke-width="0.7"/>
<rect x="500.97" y="689.26" width="18.82" height="19.54" fill="#bfc2ff" stroke="#e2e2e2" stroke-width="0.7"/>
<rect x="519.78" y="689.26" width="18.82" height="19.54" fill="#ffffff" stroke="#e2e2e2" stroke-width="0.7"/>
<rect x="425.7" y="415.7" width="112.90" height="293.10" fill="none" stroke="#1a1a1a" stroke-width="1.6"/>
<line x1="420.5" y1="425.5" x2="425.7" y2="425.5" stroke="#1a1a1a" stroke-width="1.3"/>
<text x="417.9" y="429.9" font-size="12.5" text-anchor="end" fill="#4a86a8">ARO112</text>
<line x1="420.5" y1="445.0" x2="425.7" y2="445.0" stroke="#1a1a1a" stroke-width="1.3"/>
<text x="417.9" y="449.4" font-size="12.5" text-anchor="end" fill="#4a86a8">MBC022</text>
<line x1="420.5" y1="464.5" x2="425.7" y2="464.5" stroke="#1a1a1a" stroke-width="1.3"/>
<text x="417.9" y="468.9" font-size="12.5" text-anchor="end" fill="#c9595b">MG1655</text>
<line x1="420.5" y1="484.1" x2="425.7" y2="484.1" stroke="#1a1a1a" stroke-width="1.3"/>
<text x="417.9" y="488.5" font-size="12.5" text-anchor="end" fill="#4a86a8">Kox</text>
<line x1="420.5" y1="503.6" x2="425.7" y2="503.6" stroke="#1a1a1a" stroke-width="1.3"/>
<text x="415.6" y="508.0" font-size="12.5" text-anchor="end" fill="#1a1a1a">Kp834</text>
<line x1="420.5" y1="523.2" x2="425.7" y2="523.2" stroke="#1a1a1a" stroke-width="1.3"/>
<text x="417.2" y="527.6" font-size="12.5" text-anchor="end" fill="#1a1a1a">MH258</text>
<line x1="420.5" y1="542.7" x2="425.7" y2="542.7" stroke="#1a1a1a" stroke-width="1.3"/>
<text x="417.2" y="547.1" font-size="12.5" text-anchor="end" fill="#c9595b">EcB</text>
<line x1="420.5" y1="562.2" x2="425.7" y2="562.2" stroke="#1a1a1a" stroke-width="1.3"/>
<text x="417.9" y="566.6" font-size="12.5" text-anchor="end" fill="#1a1a1a">Kp1012</text>
<line x1="420.5" y1="581.8" x2="425.7" y2="581.8" stroke="#1a1a1a" stroke-width="1.3"/>
<text x="417.9" y="586.2" font-size="12.5" text-anchor="end" fill="#c9595b">EcN</text>
<line x1="420.5" y1="601.3" x2="425.7" y2="601.3" stroke="#1a1a1a" stroke-width="1.3"/>
<text x="417.9" y="605.7" font-size="12.5" text-anchor="end" fill="#1a1a1a">ATCC43816</text>
<line x1="420.5" y1="620.9" x2="425.7" y2="620.9" stroke="#1a1a1a" stroke-width="1.3"/>
<text x="417.9" y="625.3" font-size="12.5" text-anchor="end" fill="#4a86a8">Kgr</text>
<line x1="420.5" y1="640.4" x2="425.7" y2="640.4" stroke="#1a1a1a" stroke-width="1.3"/>
<text x="417.9" y="644.8" font-size="12.5" text-anchor="end" fill="#c9595b">Ec1898</text>
<line x1="420.5" y1="660.0" x2="425.7" y2="660.0" stroke="#1a1a1a" stroke-width="1.3"/>
<text x="417.9" y="664.4" font-size="12.5" text-anchor="end" fill="#c9595b">AIEC</text>
<line x1="420.5" y1="679.5" x2="425.7" y2="679.5" stroke="#1a1a1a" stroke-width="1.3"/>
<text x="417.9" y="683.9" font-size="12.5" text-anchor="end" fill="#4a86a8">Kmi</text>
<line x1="420.5" y1="699.0" x2="425.7" y2="699.0" stroke="#1a1a1a" stroke-width="1.3"/>
<text x="417.9" y="703.4" font-size="12.5" text-anchor="end" fill="#1a1a1a">Kpn</text>
<line x1="435.1" y1="708.8" x2="435.1" y2="713.8" stroke="#1a1a1a" stroke-width="1.3"/>
<text x="439.1" y="721.8" font-size="12.5" text-anchor="end" fill="#1a1a1a" transform="rotate(-45 439.1 721.8)">Conjugation</text>
<line x1="453.9" y1="708.8" x2="453.9" y2="713.8" stroke="#1a1a1a" stroke-width="1.3"/>
<text x="457.9" y="721.8" font-size="12.5" text-anchor="end" fill="#1a1a1a" transform="rotate(-45 457.9 721.8)">Competence</text>
<line x1="472.7" y1="708.8" x2="472.7" y2="713.8" stroke="#1a1a1a" stroke-width="1.3"/>
<text x="476.7" y="721.8" font-size="12.5" text-anchor="end" fill="#1a1a1a" transform="rotate(-45 476.7 721.8)">Multidrug</text>
<line x1="491.6" y1="708.8" x2="491.6" y2="713.8" stroke="#1a1a1a" stroke-width="1.3"/>
<text x="495.6" y="721.8" font-size="12.5" text-anchor="end" fill="#1a1a1a" transform="rotate(-45 495.6 721.8)">Transposases</text>
<line x1="510.4" y1="708.8" x2="510.4" y2="713.8" stroke="#1a1a1a" stroke-width="1.3"/>
<text x="514.4" y="721.8" font-size="12.5" text-anchor="end" fill="#1a1a1a" transform="rotate(-45 514.4 721.8)">Phages/Integrases</text>
<line x1="529.2" y1="708.8" x2="529.2" y2="713.8" stroke="#1a1a1a" stroke-width="1.3"/>
<text x="533.2" y="721.8" font-size="12.5" text-anchor="end" fill="#1a1a1a" transform="rotate(-45 533.2 721.8)">CRISPR</text>
<text x="464.5" y="808" font-size="8" text-anchor="middle" fill="#1a1a1a">Categories</text>
<text x="554.4" y="475.2" font-size="10.6" fill="#1a1a1a">Normalized number of gene</text>
<text x="554.4" y="488.2" font-size="10.6" fill="#1a1a1a">products per category (%)</text>
<defs><linearGradient id="cb" x1="0" y1="0" x2="0" y2="1"><stop offset="0" stop-color="#0010ff"/><stop offset="1" stop-color="#ffffff"/></linearGradient></defs>
<rect x="554.6" y="513.5" width="10.2" height="92" fill="url(#cb)" stroke="#1a1a1a" stroke-width="0.8"/>
<text x="567.6" y="516.0" font-size="7" fill="#1a1a1a">100</text>
<line x1="554.6" y1="531.9" x2="556.6" y2="531.9" stroke="#1a1a1a" stroke-width="0.8"/>
<line x1="562.8" y1="531.9" x2="564.8" y2="531.9" stroke="#1a1a1a" stroke-width="0.8"/>
<text x="567.6" y="534.4" font-size="7" fill="#1a1a1a">80</text>
<line x1="554.6" y1="550.3" x2="556.6" y2="550.3" stroke="#1a1a1a" stroke-width="0.8"/>
<line x1="562.8" y1="550.3" x2="564.8" y2="550.3" stroke="#1a1a1a" stroke-width="0.8"/>
<text x="567.6" y="552.8" font-size="7" fill="#1a1a1a">60</text>
<line x1="554.6" y1="568.7" x2="556.6" y2="568.7" stroke="#1a1a1a" stroke-width="0.8"/>
<line x1="562.8" y1="568.7" x2="564.8" y2="568.7" stroke="#1a1a1a" stroke-width="0.8"/>
<text x="567.6" y="571.2" font-size="7" fill="#1a1a1a">40</text>
<line x1="554.6" y1="587.1" x2="556.6" y2="587.1" stroke="#1a1a1a" stroke-width="0.8"/>
<line x1="562.8" y1="587.1" x2="564.8" y2="587.1" stroke="#1a1a1a" stroke-width="0.8"/>
<text x="567.6" y="589.6" font-size="7" fill="#1a1a1a">20</text>
<text x="567.6" y="608.0" font-size="7" fill="#1a1a1a">0</text>
<text x="583.4" y="517.6" font-size="8" fill="#1a1a1a">(highest number</text>
<text x="583.4" y="527.4" font-size="8" fill="#1a1a1a">of gene products)</text>
<text x="583.4" y="608.6" font-size="8" fill="#1a1a1a">(lowest number</text>
<text x="583.4" y="618.4" font-size="8" fill="#1a1a1a">of gene products)</text>
</svg></body></html>
